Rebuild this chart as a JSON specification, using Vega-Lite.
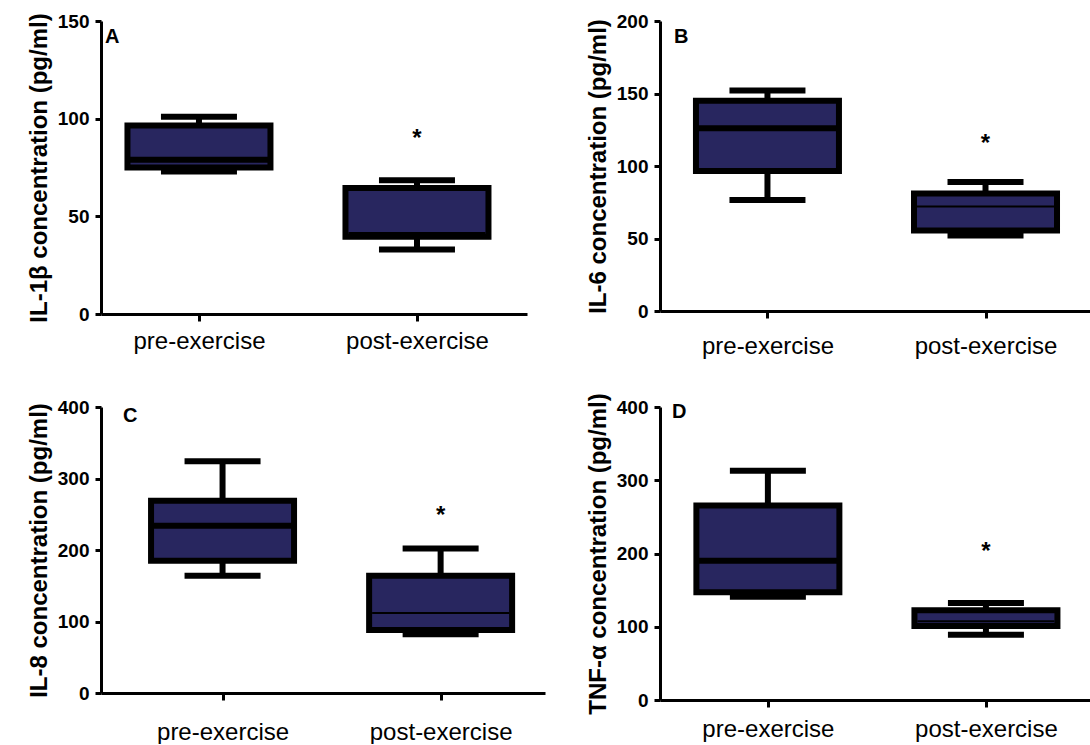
{
  "$schema": "https://vega.github.io/schema/vega-lite/v6.json",
  "background": "white",
  "padding": {"left": 27, "top": 12, "right": 0, "bottom": 0},
  "columns": 2,
  "bounds": "flush",
  "spacing": {"row": 93, "column": 115},
  "data": {
    "values": [
      {"panel": "A", "group": "pre-exercise", "min": 73, "q1": 75, "median": 79, "q3": 96.5, "max": 101, "sig": null, "sigY": null},
      {"panel": "A", "group": "post-exercise", "min": 33, "q1": 39.5, "median": 41.5, "q3": 64.5, "max": 68.5, "sig": "*", "sigY": 93},
      {"panel": "B", "group": "pre-exercise", "min": 76.5, "q1": 96.5, "median": 126, "q3": 145, "max": 152, "sig": null, "sigY": null},
      {"panel": "B", "group": "post-exercise", "min": 52, "q1": 55.5, "median": 72, "q3": 81, "max": 89, "sig": "*", "sigY": 120},
      {"panel": "C", "group": "pre-exercise", "min": 164, "q1": 185, "median": 234, "q3": 269, "max": 324, "sig": null, "sigY": null},
      {"panel": "C", "group": "post-exercise", "min": 82, "q1": 88, "median": 112, "q3": 164, "max": 202, "sig": "*", "sigY": 257},
      {"panel": "D", "group": "pre-exercise", "min": 141, "q1": 147, "median": 190, "q3": 265.5, "max": 313, "sig": null, "sigY": null},
      {"panel": "D", "group": "post-exercise", "min": 89, "q1": 101, "median": 107.5, "q3": 122.5, "max": 132.5, "sig": "*", "sigY": 211}
    ]
  },
  "concat": [
    {
      "width": 426, "height": 293,
      "title": {"text": "A", "anchor": "start", "frame": "group", "orient": "top", "offset": 0, "baseline": "alphabetic", "dx": 4, "dy": 50.5, "fontSize": 20, "fontWeight": "bold", "font": "Liberation Sans", "color": "black"},
      "transform": [{"filter": "datum.panel === 'A'"}],
      "encoding": {
        "x": {"field": "group", "type": "nominal", "sort": ["pre-exercise", "post-exercise"],
              "scale": {"type": "point", "domain": ["pre-exercise", "post-exercise"], "padding": 0.477, "align": 0.471},
              "axis": {"title": null, "labelPadding": 8}}
      },
      "layer": [
        {"mark": {"type": "rule", "color": "black", "strokeWidth": 6},
         "encoding": {"y": {"field": "min", "type": "quantitative", "scale": {"domain": [0, 150], "nice": false, "zero": true},
                            "axis": {"title": "IL-1β concentration (pg/ml)", "values": [0, 50, 100, 150]}},
                      "y2": {"field": "max"}}},
        {"mark": {"type": "tick", "color": "black", "thickness": 6, "size": 76, "opacity": 1},
         "encoding": {"y": {"field": "max", "type": "quantitative", "axis": {"title": "IL-1β concentration (pg/ml)", "values": [0, 50, 100, 150]}}}},
        {"mark": {"type": "tick", "color": "black", "thickness": 6, "size": 76, "opacity": 1},
         "encoding": {"y": {"field": "min", "type": "quantitative", "axis": {"title": "IL-1β concentration (pg/ml)", "values": [0, 50, 100, 150]}}}},
        {"mark": {"type": "bar", "width": 143, "stroke": "black", "strokeWidth": 6, "fill": "#28265f", "opacity": 1},
         "encoding": {"y": {"field": "q1", "type": "quantitative", "axis": {"title": "IL-1β concentration (pg/ml)", "values": [0, 50, 100, 150]}}, "y2": {"field": "q3"}}},
        {"transform": [{"filter": "datum.group === 'pre-exercise'"}],
         "mark": {"type": "tick", "color": "black", "thickness": 6, "size": 143, "opacity": 1},
         "encoding": {"y": {"field": "median", "type": "quantitative", "axis": {"title": "IL-1β concentration (pg/ml)", "values": [0, 50, 100, 150]}}}},
        {"transform": [{"filter": "datum.group === 'post-exercise'"}],
         "mark": {"type": "tick", "color": "black", "thickness": 2, "size": 137, "opacity": 1},
         "encoding": {"y": {"field": "median", "type": "quantitative", "axis": {"title": "IL-1β concentration (pg/ml)", "values": [0, 50, 100, 150]}}}},
        {"transform": [{"filter": "datum.sig !== null"}],
         "mark": {"type": "text", "fontSize": 24, "fontWeight": "bold", "font": "Liberation Sans", "color": "black", "baseline": "alphabetic", "dy": 14},
         "encoding": {"y": {"field": "sigY", "type": "quantitative", "axis": {"title": "IL-1β concentration (pg/ml)", "values": [0, 50, 100, 150]}}, "text": {"field": "sig"}}}
      ]
    },
    {
      "width": 430, "height": 290,
      "title": {"text": "B", "anchor": "start", "frame": "group", "orient": "top", "offset": 0, "baseline": "alphabetic", "dx": 14, "dy": 50.5, "fontSize": 20, "fontWeight": "bold", "font": "Liberation Sans", "color": "black"},
      "transform": [{"filter": "datum.panel === 'B'"}],
      "encoding": {
        "x": {"field": "group", "type": "nominal", "sort": ["pre-exercise", "post-exercise"],
              "scale": {"type": "point", "domain": ["pre-exercise", "post-exercise"], "padding": 0.486, "align": 0.507},
              "axis": {"title": null, "labelPadding": 16}}
      },
      "layer": [
        {"mark": {"type": "rule", "color": "black", "strokeWidth": 6},
         "encoding": {"y": {"field": "min", "type": "quantitative", "scale": {"domain": [0, 200], "nice": false, "zero": true},
                            "axis": {"title": "IL-6 concentration (pg/ml)", "values": [0, 50, 100, 150, 200]}},
                      "y2": {"field": "max"}}},
        {"mark": {"type": "tick", "color": "black", "thickness": 6, "size": 76, "opacity": 1},
         "encoding": {"y": {"field": "max", "type": "quantitative", "axis": {"title": "IL-6 concentration (pg/ml)", "values": [0, 50, 100, 150, 200]}}}},
        {"mark": {"type": "tick", "color": "black", "thickness": 6, "size": 76, "opacity": 1},
         "encoding": {"y": {"field": "min", "type": "quantitative", "axis": {"title": "IL-6 concentration (pg/ml)", "values": [0, 50, 100, 150, 200]}}}},
        {"mark": {"type": "bar", "width": 143, "stroke": "black", "strokeWidth": 6, "fill": "#28265f", "opacity": 1},
         "encoding": {"y": {"field": "q1", "type": "quantitative", "axis": {"title": "IL-6 concentration (pg/ml)", "values": [0, 50, 100, 150, 200]}}, "y2": {"field": "q3"}}},
        {"transform": [{"filter": "datum.group === 'pre-exercise'"}],
         "mark": {"type": "tick", "color": "black", "thickness": 6, "size": 143, "opacity": 1},
         "encoding": {"y": {"field": "median", "type": "quantitative", "axis": {"title": "IL-6 concentration (pg/ml)", "values": [0, 50, 100, 150, 200]}}}},
        {"transform": [{"filter": "datum.group === 'post-exercise'"}],
         "mark": {"type": "tick", "color": "black", "thickness": 2, "size": 137, "opacity": 1},
         "encoding": {"y": {"field": "median", "type": "quantitative", "axis": {"title": "IL-6 concentration (pg/ml)", "values": [0, 50, 100, 150, 200]}}}},
        {"transform": [{"filter": "datum.sig !== null"}],
         "mark": {"type": "text", "fontSize": 24, "fontWeight": "bold", "font": "Liberation Sans", "color": "black", "baseline": "alphabetic", "dy": 14},
         "encoding": {"y": {"field": "sigY", "type": "quantitative", "axis": {"title": "IL-6 concentration (pg/ml)", "values": [0, 50, 100, 150, 200]}}, "text": {"field": "sig"}}}
      ]
    },
    {
      "width": 444, "height": 286,
      "title": {"text": "C", "anchor": "start", "frame": "group", "orient": "top", "offset": 0, "baseline": "alphabetic", "dx": 22, "dy": 43.5, "fontSize": 20, "fontWeight": "bold", "font": "Liberation Sans", "color": "black"},
      "transform": [{"filter": "datum.panel === 'C'"}],
      "encoding": {
        "x": {"field": "group", "type": "nominal", "sort": ["pre-exercise", "post-exercise"],
              "scale": {"type": "point", "domain": ["pre-exercise", "post-exercise"], "padding": 0.518, "align": 0.538},
              "axis": {"title": null, "labelPadding": 20}}
      },
      "layer": [
        {"mark": {"type": "rule", "color": "black", "strokeWidth": 6},
         "encoding": {"y": {"field": "min", "type": "quantitative", "scale": {"domain": [0, 400], "nice": false, "zero": true},
                            "axis": {"title": "IL-8 concentration (pg/ml)", "values": [0, 100, 200, 300, 400]}},
                      "y2": {"field": "max"}}},
        {"mark": {"type": "tick", "color": "black", "thickness": 6, "size": 76, "opacity": 1},
         "encoding": {"y": {"field": "max", "type": "quantitative", "axis": {"title": "IL-8 concentration (pg/ml)", "values": [0, 100, 200, 300, 400]}}}},
        {"mark": {"type": "tick", "color": "black", "thickness": 6, "size": 76, "opacity": 1},
         "encoding": {"y": {"field": "min", "type": "quantitative", "axis": {"title": "IL-8 concentration (pg/ml)", "values": [0, 100, 200, 300, 400]}}}},
        {"mark": {"type": "bar", "width": 143, "stroke": "black", "strokeWidth": 6, "fill": "#28265f", "opacity": 1},
         "encoding": {"y": {"field": "q1", "type": "quantitative", "axis": {"title": "IL-8 concentration (pg/ml)", "values": [0, 100, 200, 300, 400]}}, "y2": {"field": "q3"}}},
        {"transform": [{"filter": "datum.group === 'pre-exercise'"}],
         "mark": {"type": "tick", "color": "black", "thickness": 6, "size": 143, "opacity": 1},
         "encoding": {"y": {"field": "median", "type": "quantitative", "axis": {"title": "IL-8 concentration (pg/ml)", "values": [0, 100, 200, 300, 400]}}}},
        {"transform": [{"filter": "datum.group === 'post-exercise'"}],
         "mark": {"type": "tick", "color": "black", "thickness": 2, "size": 137, "opacity": 1},
         "encoding": {"y": {"field": "median", "type": "quantitative", "axis": {"title": "IL-8 concentration (pg/ml)", "values": [0, 100, 200, 300, 400]}}}},
        {"transform": [{"filter": "datum.sig !== null"}],
         "mark": {"type": "text", "fontSize": 24, "fontWeight": "bold", "font": "Liberation Sans", "color": "black", "baseline": "alphabetic", "dy": 14},
         "encoding": {"y": {"field": "sigY", "type": "quantitative", "axis": {"title": "IL-8 concentration (pg/ml)", "values": [0, 100, 200, 300, 400]}}, "text": {"field": "sig"}}}
      ]
    },
    {
      "width": 430, "height": 293,
      "title": {"text": "D", "anchor": "start", "frame": "group", "orient": "top", "offset": 0, "baseline": "alphabetic", "dx": 12, "dy": 45.5, "fontSize": 20, "fontWeight": "bold", "font": "Liberation Sans", "color": "black"},
      "transform": [{"filter": "datum.panel === 'D'"}],
      "encoding": {
        "x": {"field": "group", "type": "nominal", "sort": ["pre-exercise", "post-exercise"],
              "scale": {"type": "point", "domain": ["pre-exercise", "post-exercise"], "padding": 0.486, "align": 0.509},
              "axis": {"title": null, "labelPadding": 10}}
      },
      "layer": [
        {"mark": {"type": "rule", "color": "black", "strokeWidth": 6},
         "encoding": {"y": {"field": "min", "type": "quantitative", "scale": {"domain": [0, 400], "nice": false, "zero": true},
                            "axis": {"title": "TNF-α concentration (pg/ml)", "values": [0, 100, 200, 300, 400]}},
                      "y2": {"field": "max"}}},
        {"mark": {"type": "tick", "color": "black", "thickness": 6, "size": 76, "opacity": 1},
         "encoding": {"y": {"field": "max", "type": "quantitative", "axis": {"title": "TNF-α concentration (pg/ml)", "values": [0, 100, 200, 300, 400]}}}},
        {"mark": {"type": "tick", "color": "black", "thickness": 6, "size": 76, "opacity": 1},
         "encoding": {"y": {"field": "min", "type": "quantitative", "axis": {"title": "TNF-α concentration (pg/ml)", "values": [0, 100, 200, 300, 400]}}}},
        {"mark": {"type": "bar", "width": 143, "stroke": "black", "strokeWidth": 6, "fill": "#28265f", "opacity": 1},
         "encoding": {"y": {"field": "q1", "type": "quantitative", "axis": {"title": "TNF-α concentration (pg/ml)", "values": [0, 100, 200, 300, 400]}}, "y2": {"field": "q3"}}},
        {"transform": [{"filter": "datum.group === 'pre-exercise'"}],
         "mark": {"type": "tick", "color": "black", "thickness": 6, "size": 143, "opacity": 1},
         "encoding": {"y": {"field": "median", "type": "quantitative", "axis": {"title": "TNF-α concentration (pg/ml)", "values": [0, 100, 200, 300, 400]}}}},
        {"transform": [{"filter": "datum.group === 'post-exercise'"}],
         "mark": {"type": "tick", "color": "black", "thickness": 2, "size": 137, "opacity": 1},
         "encoding": {"y": {"field": "median", "type": "quantitative", "axis": {"title": "TNF-α concentration (pg/ml)", "values": [0, 100, 200, 300, 400]}}}},
        {"transform": [{"filter": "datum.sig !== null"}],
         "mark": {"type": "text", "fontSize": 24, "fontWeight": "bold", "font": "Liberation Sans", "color": "black", "baseline": "alphabetic", "dy": 14},
         "encoding": {"y": {"field": "sigY", "type": "quantitative", "axis": {"title": "TNF-α concentration (pg/ml)", "values": [0, 100, 200, 300, 400]}}, "text": {"field": "sig"}}}
      ]
    }
  ],
  "config": {
    "view": {"stroke": null},
    "font": "Liberation Sans",
    "axis": {
      "grid": false,
      "domainColor": "black",
      "domainWidth": 3,
      "tickColor": "black",
      "tickWidth": 3,
      "labelColor": "black",
      "titleColor": "black",
      "labelFont": "Liberation Sans",
      "titleFont": "Liberation Sans"
    },
    "axisX": {
      "labelAngle": 0,
      "labelFontSize": 24,
      "labelFontWeight": "normal",
      "tickSize": 7
    },
    "axisY": {
      "labelFontSize": 19,
      "labelFontWeight": "bold",
      "labelPadding": 6,
      "tickSize": 6,
      "titleFontSize": 24,
      "titleFontWeight": "bold",
      "titlePadding": 6
    }
  }
}
